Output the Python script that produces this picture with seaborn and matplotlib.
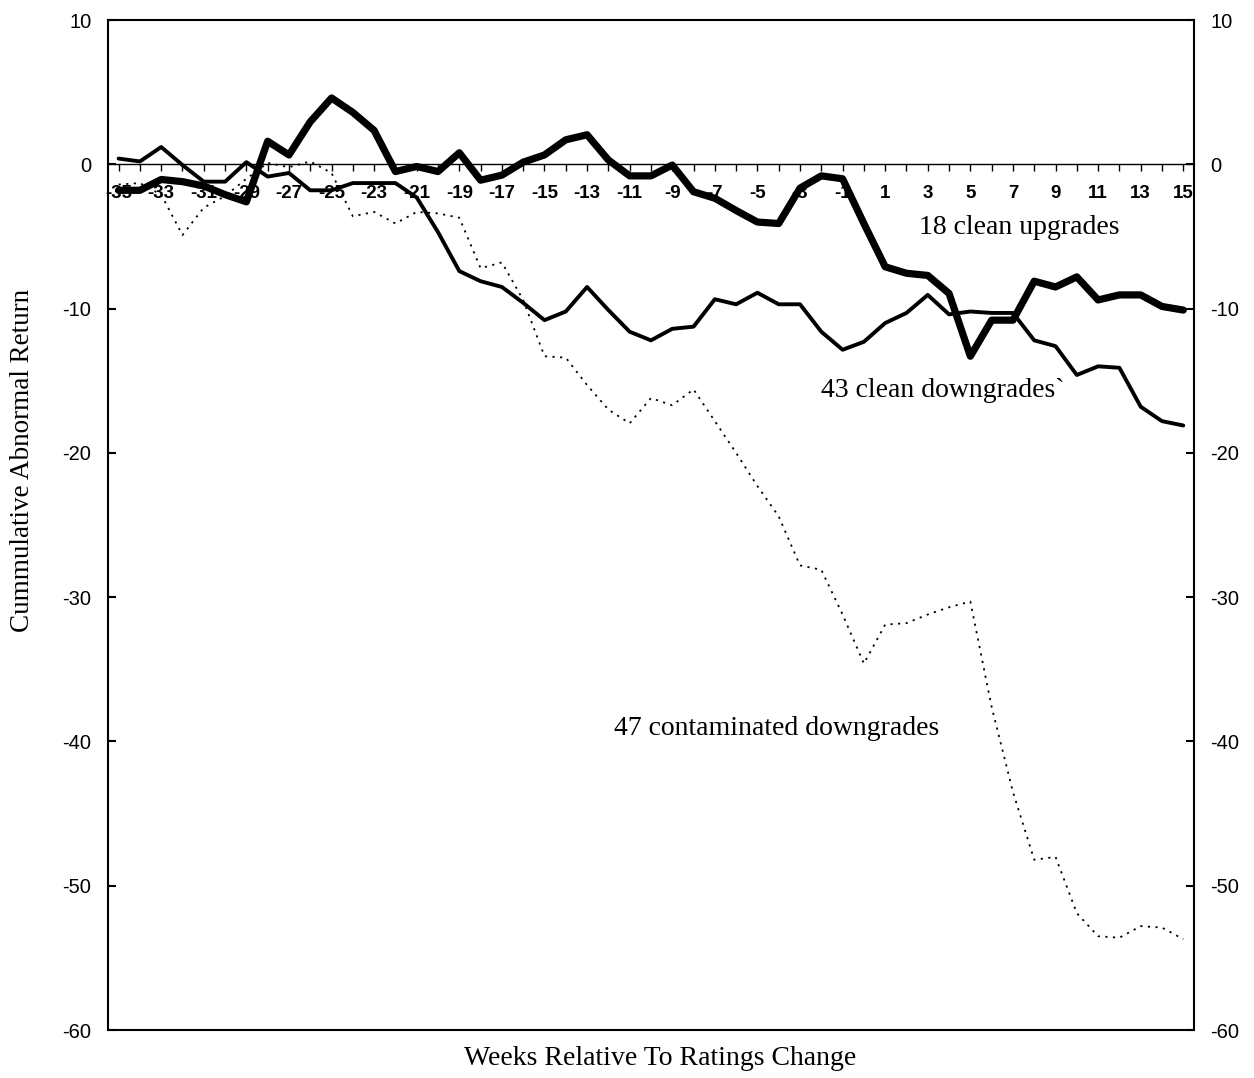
import numpy as np
import pandas as pd
import seaborn as sns
import matplotlib.pyplot as plt

# weeks relative to the ratings change
weeks = list(range(-35, 16))

# 18 clean upgrades (thick line)
upgrades = [-1.8, -1.8, -1.05, -1.2, -1.5, -2.1, -2.6, 1.6, 0.65, 2.95,
            4.6, 3.6, 2.35, -0.5, -0.15, -0.5, 0.8, -1.1, -0.75, 0.15,
            0.65, 1.7, 2.05, 0.3, -0.8, -0.8, -0.05, -1.9, -2.35, -3.2,
            -4.0, -4.1, -1.65, -0.8, -1.0, -4.1, -7.1, -7.55, -7.7, -8.95,
            -13.3, -10.8, -10.8, -8.1, -8.5, -7.8, -9.4, -9.05, -9.05, -9.85,
            -10.1]

# 43 clean downgrades (medium line)
clean_down = [0.4, 0.2, 1.2, -0.05, -1.2, -1.2, 0.15, -0.85, -0.6, -1.8,
              -1.8, -1.3, -1.3, -1.3, -2.3, -4.7, -7.4, -8.1, -8.5, -9.6,
              -10.8, -10.2, -8.5, -10.1, -11.6, -12.2, -11.4, -11.25, -9.35, -9.7,
              -8.9, -9.7, -9.7, -11.6, -12.85, -12.3, -11.0, -10.3, -9.05, -10.4,
              -10.2, -10.3, -10.3, -12.2, -12.6, -14.6, -14.0, -14.1, -16.8, -17.8,
              -18.1]

# 47 contaminated downgrades (dotted line)
contam_down = [-1.4, -1.3, -2.1, -4.9, -3.0, -2.2, -1.0, 0.1, -0.2, 0.2,
               -0.6, -3.6, -3.3, -4.1, -3.3, -3.4, -3.7, -7.2, -6.8, -9.4,
               -13.3, -13.4, -15.3, -17.0, -17.95, -16.2, -16.7, -15.6, -17.8, -20.0,
               -22.3, -24.4, -27.8, -28.1, -31.2, -34.6, -31.9, -31.8, -31.2, -30.7,
               -30.3, -37.6, -43.5, -48.2, -48.0, -51.9, -53.5, -53.6, -52.8, -52.9,
               -53.7]

df = pd.DataFrame({"week": weeks, "up": upgrades, "cd": clean_down, "cont": contam_down})

sns.set_style("white")
plt.rcParams["font.family"] = ["Liberation Serif", "DejaVu Serif"]
plt.rcParams["axes.unicode_minus"] = False
plt.rcParams["text.color"] = "black"
plt.rcParams["axes.labelcolor"] = "black"

fig = plt.figure(figsize=(12.54, 10.78), dpi=100)
ax = fig.add_axes([0.0861, 0.0445, 0.8660, 0.9369])

sns.lineplot(data=df, x="week", y="cont", ax=ax, color="black", linewidth=1.3,
             linestyle=(0, (1.2, 3.0)))
sns.lineplot(data=df, x="week", y="cd", ax=ax, color="black", linewidth=2.8)
sns.lineplot(data=df, x="week", y="up", ax=ax, color="black", linewidth=5.2)

ax.set_xlim(-35.5, 15.5)
ax.set_ylim(-60, 10)

# x axis runs along zero, frame kept all round
for s in ax.spines.values():
    s.set_color("black")
    s.set_linewidth(1.5)
ax.spines["bottom"].set_position(("data", 0))
ax.spines["bottom"].set_linewidth(1.0)
ax.axhline(-60, color="black", lw=1.5, clip_on=False)

ax.set_xticks(weeks[::2])
ax.set_xticks(weeks, minor=True)
ax.tick_params(axis="x", which="both", direction="out", length=5, width=1,
               pad=10, labelsize=13.5, colors="black", bottom=True)
for lbl in ax.get_xticklabels():
    lbl.set_fontfamily("Liberation Sans")
    lbl.set_fontweight("bold")

ax.set_yticks(list(range(-60, 11, 10)))
ax.tick_params(axis="y", direction="in", length=6, width=1.5, left=True, right=True,
               labelleft=True, labelright=True, labelsize=14.5, pad=12, colors="black")
for lbl in ax.get_yticklabels():
    lbl.set_fontfamily("Liberation Sans")

ax.set_xlabel("Weeks Relative To Ratings Change", fontsize=20)
ax.xaxis.set_label_coords(0.508, -0.028)
ax.xaxis.label.set_verticalalignment("center")
ax.set_ylabel("Cummulative Abnormal Return", fontsize=19.5)
ax.yaxis.set_label_coords(-0.079, 0.564)
ax.yaxis.label.set_verticalalignment("center")

ax.text(7.3, -4.4, "18 clean upgrades", fontsize=20, ha="center", va="center")
ax.text(3.7, -15.7, "43 clean downgrades`", fontsize=20, ha="center", va="center")
ax.text(-4.1, -39.1, "47 contaminated downgrades", fontsize=20, ha="center", va="center")

fig.savefig("out.png", dpi=100)
